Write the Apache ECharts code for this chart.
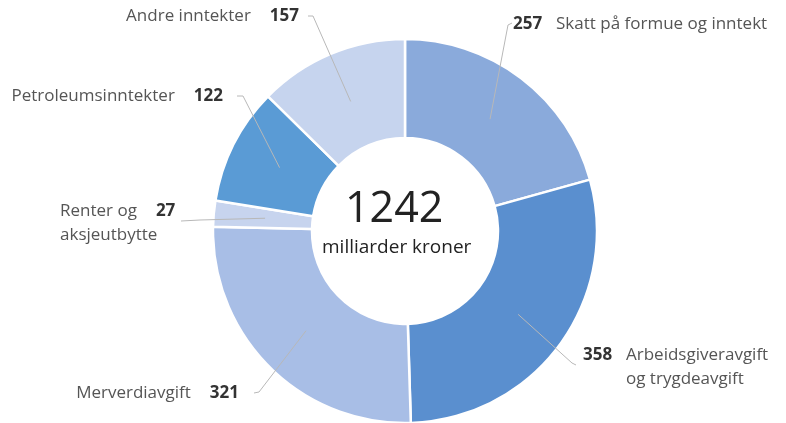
<!DOCTYPE html>
<html>
<head>
<meta charset="utf-8">
<script src="https://cdn.jsdelivr.net/npm/echarts@6/dist/echarts.min.js"></script>
<style>
  html, body { margin: 0; padding: 0; background: #fff; }
  #chart { width: 786px; height: 423px; }
</style>
</head>
<body>
<div id="chart"></div>
<script>
// data
const names = ['Skatt på formue og inntekt', 'Arbeidsgiveravgift og trygdeavgift', 'Merverdiavgift',
  'Renter og aksjeutbytte', 'Petroleumsinntekter', 'Andre inntekter']
const values = [257, 358, 321, 27, 122, 157]
const totalLabel = '1242'
const unitLabel = 'milliarder kroner'

const colors = ['#8aaadb', '#5a8fcf', '#a8bee6', '#c7d4ee', '#5a9bd5', '#c6d4ee']

// label text per slice (rich text)
const labelTexts = [
  '{v|257}{n|Skatt på formue og inntekt}',
  '{v|358}{n|Arbeidsgiveravgift}\n{sp| }{n|og trygdeavgift}',
  '{n|Merverdiavgift}{v2|321}',
  '{n|Renter og}{v2|27}\n{n|aksjeutbytte}',
  '{n|Petroleumsinntekter}{v2|122}',
  '{n|Andre inntekter}{v2|157}'
]

// where each label sits and how its leader line bends
const labelPlaces = [
  {x: 513, y: 24, align: 'left', elbow: [508, 25], end: [512, 23]},
  {x: 583, y: 367, align: 'left', elbow: [572, 363], end: [576, 365]},
  {x: 239, y: 393, align: 'right', elbow: [259, 392], end: [254, 393]},
  {x: 60, y: 223, align: 'left', elbow: [200, 220], end: [181, 221]},
  {x: 223, y: 96, align: 'right', elbow: [243, 96], end: [237, 96]},
  {x: 299, y: 16, align: 'right', elbow: [313, 16], end: [308, 16]}
]

const cx = 405, cy = 231, rIn = 93, rOut = 192

const total = values.reduce((a, b) => a + b, 0)
const midAngles = []
let cum = 0
values.forEach(v => {
  midAngles.push((cum + v / 2) / total * Math.PI * 2)
  cum += v
})

const chart = echarts.init(document.getElementById('chart'))

const pieData = values.map((v, i) => ({value: v, name: names[i]}))

chart.setOption({
  animation: false,
  color: colors,
  graphic: [
    {
      type: 'text', left: cx - 60, top: cy - 43,
      style: {text: totalLabel, font: '43px "Open Sans"', fill: '#222', width: 110, align: 'center'}
    },
    {
      type: 'text', left: cx - 83, top: cy + 7,
      style: {text: unitLabel, font: '19px "Open Sans"', fill: '#222', width: 160, align: 'center'}
    }
  ],
  series: [
    {
      // the rings
      type: 'pie',
      z: 2,
      center: [cx, cy],
      radius: [rIn, rOut],
      startAngle: 90,
      clockwise: true,
      silent: true,
      itemStyle: {borderColor: '#fff', borderWidth: 2.5},
      label: {show: false},
      labelLine: {show: false},
      data: pieData
    },
    {
      // transparent copy on top, carries labels and leader lines
      type: 'pie',
      z: 5,
      center: [cx, cy],
      radius: [rIn, rOut],
      startAngle: 90,
      clockwise: true,
      silent: true,
      avoidLabelOverlap: false,
      itemStyle: {color: 'rgba(0,0,0,0)', borderWidth: 0},
      label: {
        show: true,
        fontFamily: 'Open Sans',
        fontSize: 17,
        color: '#555',
        rich: {
          n: {fontFamily: 'Open Sans', fontSize: 17, color: '#555', lineHeight: 24},
          v: {fontFamily: 'Open Sans', fontSize: 17, color: '#333', fontWeight: 'bold', width: 43, lineHeight: 24},
          v2: {fontFamily: 'Open Sans', fontSize: 17, color: '#333', fontWeight: 'bold', padding: [0, 0, 0, 19], lineHeight: 24},
          sp: {width: 43, lineHeight: 24}
        }
      },
      labelLine: {show: true, showAbove: true, lineStyle: {color: '#b8b8b8', width: 1}},
      labelLayout: function (params) {
        const i = params.dataIndex
        const p = labelPlaces[i]
        const a = midAngles[i]
        const rMid = (rIn + rOut) / 2 - 2
        const start = [cx + Math.sin(a) * rMid, cy - Math.cos(a) * rMid]
        return {
          x: p.x, y: p.y, align: p.align, verticalAlign: 'middle',
          labelLinePoints: [start, p.elbow, p.end]
        }
      },
      data: pieData.map((d, i) => ({
        value: d.value,
        name: d.name,
        label: {formatter: labelTexts[i]}
      }))
    }
  ]
})
</script>
</body>
</html>
